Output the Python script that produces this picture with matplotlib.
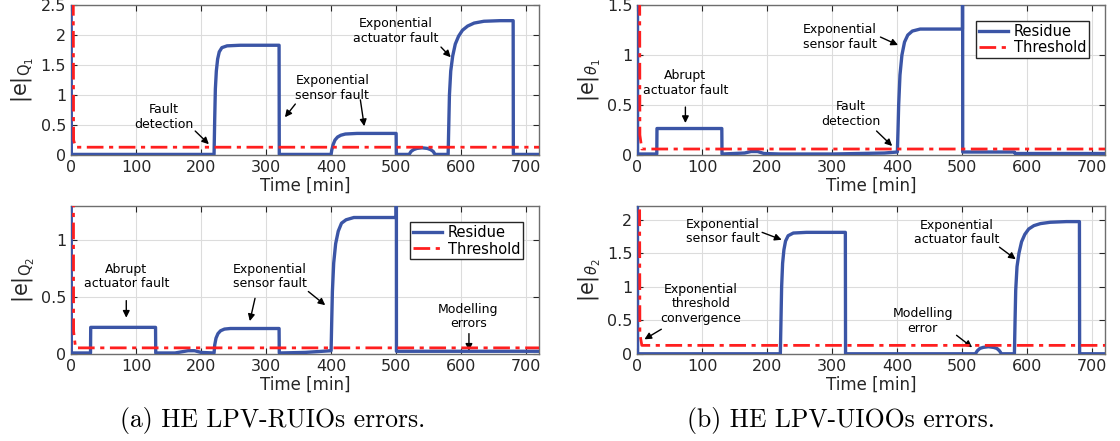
import matplotlib
matplotlib.use("Agg")
import matplotlib.pyplot as plt
from matplotlib import font_manager

# ---- data ----
BIG = 5.0  # values above the axis top (clipped spikes)

# (a) top: |e|_Q1
q1_t = [0, 0.5, 220, 221, 222, 223.5, 225.5, 228, 232, 240, 260, 320, 320.3,
        400, 401, 403, 406, 410, 415, 422, 440, 500, 500.3,
        520, 523, 527, 532, 540, 548, 553, 557, 560,
        580, 581, 582, 584, 587, 591, 596, 602, 610, 620, 635, 660, 680, 680.3, 720]
q1_e = [BIG, 0.01, 0.01, 0.6, 1.1, 1.4, 1.6, 1.72, 1.79, 1.82, 1.83, 1.83, 0.01,
        0.01, 0.08, 0.17, 0.25, 0.3, 0.33, 0.35, 0.36, 0.36, 0.01,
        0.01, 0.06, 0.09, 0.11, 0.12, 0.11, 0.09, 0.06, 0.01,
        0.01, 0.5, 1.0, 1.4, 1.65, 1.85, 1.98, 2.08, 2.15, 2.2, 2.23, 2.24, 2.24, 0.01, 0.01]
q1_thr = [BIG, 0.25, 0.13, 0.13]

# (a) bottom: |e|_Q2
q2_t = [0, 0.5, 30, 30.3, 130, 130.3, 160, 170, 180, 190, 200, 220,
        221, 223, 226, 230, 236, 245, 320, 320.3, 360, 400,
        401, 402, 404, 407, 411, 416, 423, 435, 500, 500.2, 500.5, 720]
q2_e = [BIG, 0.01, 0.01, 0.235, 0.235, 0.01, 0.01, 0.02, 0.03, 0.03, 0.015, 0.01,
        0.08, 0.14, 0.18, 0.205, 0.22, 0.225, 0.225, 0.01, 0.015, 0.03,
        0.3, 0.55, 0.8, 0.97, 1.08, 1.15, 1.18, 1.2, 1.2, BIG, 0.025, 0.025]
q2_thr = [BIG, 0.2, 0.055, 0.055]

# (b) top: |e|_theta1
th1_t = [0, 0.5, 30, 30.3, 130, 130.3, 165, 175, 185, 195, 220, 300, 380, 400,
         401, 402, 404, 407, 411, 416, 423, 435, 500, 500.2, 500.5, 580, 581, 720]
th1_e = [BIG, 0.01, 0.01, 0.265, 0.265, 0.01, 0.02, 0.035, 0.035, 0.015, 0.01, 0.01, 0.02, 0.03,
         0.25, 0.5, 0.8, 1.0, 1.13, 1.2, 1.24, 1.26, 1.26, BIG, 0.03, 0.03, 0.015, 0.015]
th1_thr = [BIG, 0.2, 0.06, 0.06]

# (b) bottom: |e|_theta2
th2_t = [0, 0.5, 220, 221, 222, 223.5, 225.5, 228, 232, 240, 260, 320, 320.3,
         520, 523, 527, 532, 540, 548, 553, 557, 560,
         580, 581, 582, 584, 587, 591, 596, 602, 610, 620, 635, 660, 680, 680.3, 720]
th2_e = [BIG, 0.005, 0.005, 0.5, 1.0, 1.35, 1.55, 1.68, 1.76, 1.8, 1.81, 1.81, 0.005,
         0.005, 0.05, 0.085, 0.1, 0.11, 0.1, 0.085, 0.05, 0.005,
         0.005, 0.5, 0.95, 1.3, 1.5, 1.67, 1.78, 1.86, 1.91, 1.94, 1.96, 1.97, 1.97, 0.005, 0.005]
th2_thr = [BIG, 0.3, 0.13, 0.13]

thr_t = [3, 4, 7, 720]

x_ticks = [0, 100, 200, 300, 400, 500, 600, 700]

# (text, text xy, arrow tail, arrow head) in data units
q1_notes = [
    ("Fault\ndetection", (143, 0.63), (191, 0.40), (212, 0.18)),
    ("Exponential\nsensor fault", (402, 1.12), (345, 0.85), (329, 0.63)),
    ("", None, (445, 0.92), (451, 0.48)),
    ("Exponential\nactuator fault", (500, 2.07), (569, 1.80), (584, 1.63)),
]
q2_notes = [
    ("Abrupt\nactuator fault", (85, 0.68), (85, 0.47), (85, 0.32)),
    ("Exponential\nsensor fault", (306, 0.68), (283, 0.49), (275, 0.29)),
    ("", None, (365, 0.55), (391, 0.43)),
    ("Modelling\nerrors", (611, 0.33), (612, 0.18), (612, 0.03)),
]
th1_notes = [
    ("Abrupt\nactuator fault", (74, 0.72), (74, 0.48), (74, 0.32)),
    ("Fault\ndetection", (328, 0.41), (368, 0.24), (392, 0.09)),
    ("Exponential\nsensor fault", (312, 1.18), (374, 1.18), (401, 1.10)),
]
th2_notes = [
    ("Exponential\nsensor fault", (131, 1.82), (192, 1.81), (222, 1.70)),
    ("Exponential\nactuator fault", (491, 1.81), (557, 1.59), (582, 1.41)),
    ("Exponential\nthreshold\nconvergence", (98, 0.75), (37, 0.37), (11, 0.22)),
    ("Modelling\nerror", (439, 0.49), (491, 0.28), (515, 0.10)),
]

BLUE = "#3b55a6"
RED = "#ff1f1f"

names = {f.name for f in font_manager.fontManager.ttflist}
note_font = "Liberation Sans Narrow" if "Liberation Sans Narrow" in names else "DejaVu Sans"
note_size = 10 if note_font != "DejaVu Sans" else 9


def panel(ax, t, e, thr, ylim, yticks, ylabel, notes, legend=False):
    ax.plot(t, e, color=BLUE, lw=2.4, label="Residue", zorder=3)
    ax.plot(thr_t, thr, color=RED, lw=2.0, ls=(0, (6, 2, 1.5, 2)), label="Threshold", zorder=4)
    ax.set_xlim(0, 720)
    ax.set_ylim(0, ylim)
    ax.set_xticks(x_ticks)
    ax.set_yticks(yticks)
    ax.set_yticklabels([f"{v:g}" for v in yticks])
    ax.grid(True, color="#dcdcdc", lw=0.8)
    ax.set_axisbelow(True)
    ax.tick_params(direction="in", top=True, right=True, labelsize=11.5,
                   colors="#262626", length=4)
    for s in ax.spines.values():
        s.set_color("#6e6e6e")
        s.set_linewidth(1.0)
    ax.set_xlabel("Time [min]", fontsize=12, color="#262626", labelpad=1)
    ax.set_ylabel(ylabel, fontsize=15, color="#262626", labelpad=3)
    for text, xy, tail, head in notes:
        if text:
            ax.text(xy[0], xy[1], text, ha="center", va="center",
                    fontsize=note_size, family=note_font, linespacing=1.15, zorder=5)
        ax.annotate("", xy=head, xytext=tail,
                    arrowprops=dict(arrowstyle="-|>", color="black", lw=1.0,
                                    mutation_scale=10, shrinkA=0, shrinkB=0))
    if legend:
        ax.legend(loc="upper right", fontsize=10.5, handlelength=2.0,
                  handletextpad=0.4, fancybox=False, edgecolor="#262626", framealpha=1,
                  borderaxespad=1.1, borderpad=0.2, labelspacing=0.1)


fig = plt.figure(figsize=(11.2, 4.41), dpi=100)
ax_q1 = fig.add_axes([0.0634, 0.6485, 0.418, 0.340])
ax_q2 = fig.add_axes([0.0634, 0.197, 0.418, 0.3356])
ax_t1 = fig.add_axes([0.569, 0.6485, 0.418, 0.340])
ax_t2 = fig.add_axes([0.569, 0.197, 0.418, 0.3356])

panel(ax_q1, q1_t, q1_e, q1_thr, 2.5, [0, 0.5, 1, 1.5, 2, 2.5], r"|e|$_{\mathrm{Q}_1}$", q1_notes)
panel(ax_q2, q2_t, q2_e, q2_thr, 1.3, [0, 0.5, 1], r"|e|$_{\mathrm{Q}_2}$", q2_notes, legend=True)
panel(ax_t1, th1_t, th1_e, th1_thr, 1.5, [0, 0.5, 1, 1.5], r"|e|$_{\theta_1}$", th1_notes, legend=True)
panel(ax_t2, th2_t, th2_e, th2_thr, 2.2, [0, 0.5, 1, 1.5, 2], r"|e|$_{\theta_2}$", th2_notes)

fig.text(273 / 1120, 1 - 421 / 441, "(a) HE LPV-RUIOs errors.", ha="center", va="center",
         fontsize=18.5, family="cmr10")
fig.text(841 / 1120, 1 - 421 / 441, "(b) HE LPV-UIOOs errors.", ha="center", va="center",
         fontsize=18.5, family="cmr10")

fig.savefig("out.png", dpi=100)
